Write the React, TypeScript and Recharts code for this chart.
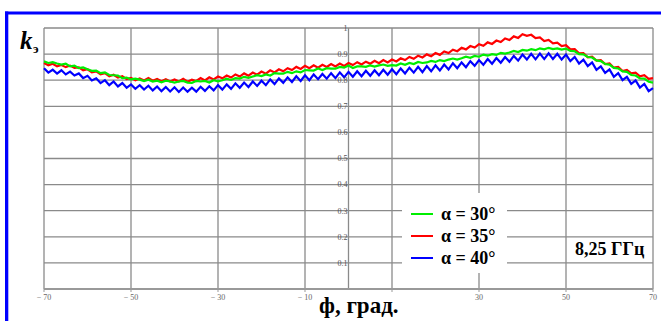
import React from 'react';
import { LineChart, Line, XAxis, YAxis, CartesianGrid, ReferenceLine, ReferenceDot } from 'recharts';

// angle, degrees
const angles = [
  -70, -69, -68, -67, -66, -65, -64, -63, -62, -61,
  -60, -59, -58, -57, -56, -55, -54, -53, -52, -51,
  -50, -49, -48, -47, -46, -45, -44, -43, -42, -41,
  -40, -39, -38, -37, -36, -35, -34, -33, -32, -31,
  -30, -29, -28, -27, -26, -25, -24, -23, -22, -21,
  -20, -19, -18, -17, -16, -15, -14, -13, -12, -11,
  -10, -9, -8, -7, -6, -5, -4, -3, -2, -1,
  0, 1, 2, 3, 4, 5, 6, 7, 8, 9,
  10, 11, 12, 13, 14, 15, 16, 17, 18, 19,
  20, 21, 22, 23, 24, 25, 26, 27, 28, 29,
  30, 31, 32, 33, 34, 35, 36, 37, 38, 39,
  40, 41, 42, 43, 44, 45, 46, 47, 48, 49,
  50, 51, 52, 53, 54, 55, 56, 57, 58, 59,
  60, 61, 62, 63, 64, 65, 66, 67, 68, 69,
  70,
];

// alpha = 30
const k30 = [
  0.872, 0.866, 0.869, 0.864, 0.860, 0.863, 0.853, 0.856, 0.846, 0.849,
  0.842, 0.836, 0.837, 0.827, 0.830, 0.820, 0.819, 0.818, 0.808, 0.810,
  0.803, 0.806, 0.802, 0.797, 0.802, 0.795, 0.798, 0.792, 0.798, 0.795,
  0.791, 0.795, 0.797, 0.791, 0.790, 0.797, 0.795, 0.797, 0.791, 0.800,
  0.796, 0.800, 0.806, 0.801, 0.808, 0.806, 0.813, 0.809, 0.814, 0.819,
  0.816, 0.822, 0.818, 0.827, 0.825, 0.825, 0.832, 0.827, 0.834, 0.830,
  0.839, 0.838, 0.837, 0.845, 0.839, 0.846, 0.844, 0.844, 0.851, 0.848,
  0.856, 0.847, 0.853, 0.853, 0.851, 0.857, 0.852, 0.857, 0.860, 0.855,
  0.858, 0.856, 0.864, 0.859, 0.866, 0.862, 0.870, 0.866, 0.868, 0.874,
  0.870, 0.877, 0.873, 0.879, 0.883, 0.879, 0.884, 0.890, 0.886, 0.893,
  0.890, 0.898, 0.894, 0.900, 0.897, 0.905, 0.902, 0.906, 0.912, 0.908,
  0.916, 0.913, 0.919, 0.915, 0.922, 0.918, 0.924, 0.919, 0.922, 0.917,
  0.921, 0.912, 0.911, 0.900, 0.899, 0.889, 0.887, 0.876, 0.873, 0.862,
  0.860, 0.847, 0.845, 0.834, 0.832, 0.820, 0.818, 0.807, 0.806, 0.794,
  0.791,
];

// alpha = 35
const k35 = [
  0.866, 0.857, 0.863, 0.853, 0.858, 0.850, 0.856, 0.847, 0.849, 0.838,
  0.842, 0.830, 0.834, 0.823, 0.827, 0.815, 0.821, 0.810, 0.815, 0.804,
  0.809, 0.800, 0.807, 0.799, 0.808, 0.798, 0.805, 0.796, 0.804, 0.795,
  0.803, 0.795, 0.805, 0.794, 0.802, 0.797, 0.808, 0.799, 0.811, 0.803,
  0.814, 0.807, 0.818, 0.810, 0.822, 0.814, 0.826, 0.817, 0.829, 0.821,
  0.833, 0.825, 0.838, 0.830, 0.842, 0.834, 0.846, 0.839, 0.851, 0.843,
  0.855, 0.846, 0.857, 0.848, 0.859, 0.851, 0.862, 0.853, 0.864, 0.855,
  0.866, 0.858, 0.869, 0.860, 0.871, 0.863, 0.874, 0.865, 0.877, 0.868,
  0.879, 0.872, 0.884, 0.877, 0.889, 0.882, 0.894, 0.887, 0.899, 0.892,
  0.904, 0.897, 0.910, 0.904, 0.917, 0.911, 0.924, 0.918, 0.931, 0.925,
  0.938, 0.932, 0.945, 0.939, 0.952, 0.946, 0.960, 0.954, 0.968, 0.962,
  0.976, 0.970, 0.974, 0.961, 0.964, 0.950, 0.954, 0.941, 0.944, 0.931,
  0.934, 0.918, 0.919, 0.903, 0.904, 0.888, 0.890, 0.875, 0.877, 0.862,
  0.864, 0.848, 0.851, 0.835, 0.839, 0.826, 0.829, 0.815, 0.819, 0.805,
  0.808,
];

// alpha = 40
const k40 = [
  0.846, 0.829, 0.840, 0.825, 0.838, 0.822, 0.833, 0.818, 0.826, 0.808,
  0.817, 0.799, 0.807, 0.789, 0.800, 0.781, 0.795, 0.776, 0.789, 0.771,
  0.784, 0.767, 0.781, 0.764, 0.779, 0.761, 0.776, 0.758, 0.774, 0.757,
  0.773, 0.755, 0.772, 0.756, 0.771, 0.756, 0.775, 0.759, 0.777, 0.761,
  0.781, 0.764, 0.784, 0.767, 0.788, 0.771, 0.791, 0.774, 0.795, 0.778,
  0.798, 0.781, 0.803, 0.785, 0.807, 0.790, 0.811, 0.793, 0.815, 0.797,
  0.819, 0.800, 0.822, 0.804, 0.824, 0.806, 0.827, 0.808, 0.830, 0.811,
  0.832, 0.813, 0.834, 0.815, 0.836, 0.817, 0.838, 0.819, 0.840, 0.821,
  0.842, 0.823, 0.845, 0.826, 0.848, 0.829, 0.851, 0.831, 0.854, 0.834,
  0.857, 0.837, 0.860, 0.841, 0.865, 0.846, 0.868, 0.850, 0.873, 0.855,
  0.877, 0.859, 0.881, 0.863, 0.885, 0.867, 0.889, 0.871, 0.893, 0.875,
  0.898, 0.879, 0.901, 0.880, 0.902, 0.881, 0.903, 0.881, 0.901, 0.879,
  0.898, 0.873, 0.889, 0.864, 0.879, 0.854, 0.868, 0.840, 0.853, 0.828,
  0.841, 0.813, 0.827, 0.800, 0.813, 0.786, 0.799, 0.772, 0.786, 0.758,
  0.770,
];

const xTicks = [-70, -50, -30, -10, 10, 30, 50, 70];
const yTicks = [0, 0.1, 0.2, 0.3, 0.4, 0.5, 0.6, 0.7, 0.8, 0.9, 1];
const yLabels = ['0.1', '0.2', '0.3', '0.4', '0.5', '0.6', '0.7', '0.8', '0.9', '1'];

const series = [
  { key: 'k40', name: 'α = 40°', color: '#0000ff' },
  { key: 'k35', name: 'α = 35°', color: '#ff0000' },
  { key: 'k30', name: 'α = 30°', color: '#00ee00' },
];
const legendOrder = ['k30', 'k35', 'k40'];

const data = angles.map((a, i) => ({ angle: a, k30: k30[i], k35: k35[i], k40: k40[i] }));

const serif = '"Liberation Serif", "Times New Roman", serif';
const gridColor = '#8a8a8a';

// the "10" label sits under the axis title in the original, so it is left out
const fmtX = (v: number) => (v === 10 ? '' : v < 0 ? `− ${-v}` : `${v}`);

export default function App() {
  return (
    <div style={{ position: 'absolute', left: 0, top: 0, width: 661, height: 321, background: '#fff' }}>
      <LineChart width={661} height={321} data={data} margin={{ top: 28, right: 8, left: 44, bottom: 12 }}>
        <CartesianGrid stroke={gridColor} strokeWidth={1.3} />
        <XAxis
          dataKey="angle"
          type="number"
          domain={[-70, 70]}
          ticks={xTicks}
          tickFormatter={fmtX}
          height={20}
          axisLine={{ stroke: '#999', strokeWidth: 2 }}
          tickLine={{ stroke: '#999' }}
          tickSize={3}
          tickMargin={2}
          tick={{ fill: '#666', fontSize: 8, fontFamily: serif }}
        />
        <YAxis hide width={0} domain={[0, 1]} ticks={yTicks} />
        <ReferenceLine x={0} stroke={gridColor} strokeWidth={1.3} />
        {yLabels.map((l) => (
          <ReferenceDot
            key={l}
            x={0}
            y={Number(l)}
            r={0}
            fill="none"
            stroke="none"
            label={{ value: l, position: 'left', offset: 1, fontSize: 8, fill: '#555', fontFamily: serif }}
          />
        ))}
        {series.map((s) => (
          <Line
            key={s.key}
            dataKey={s.key}
            name={s.name}
            type="linear"
            stroke={s.color}
            strokeWidth={2.2}
            dot={false}
            isAnimationActive={false}
          />
        ))}
      </LineChart>
      <svg width={661} height={321} style={{ position: 'absolute', left: 0, top: 0, pointerEvents: 'none' }}>
        <rect x={5} y={11.5} width={656} height={3} fill="#0000ff" />
        <rect x={5} y={11.5} width={3.3} height={310} fill="#0000ff" />
        <text x={20} y={49} fontFamily={serif} fontSize={25} fontWeight="bold" fontStyle="italic">k</text>
        <text x={33} y={52.5} fontFamily={serif} fontSize={13} fontWeight="bold">э</text>
        <rect x={402} y={193} width={105} height={80} fill="#fff" />
        {legendOrder.map((k, i) => {
          const s = series.find((x) => x.key === k)!;
          const cy = 214 + i * 22;
          return (
            <g key={k}>
              <line x1={411} x2={433} y1={cy} y2={cy} stroke={s.color} strokeWidth={2} />
              <text x={441} y={cy + 5.5} fontFamily={serif} fontSize={18} fontWeight="bold">{s.name}</text>
            </g>
          );
        })}
        <text x={575} y={254.5} fontFamily={serif} fontSize={18} fontWeight="bold">8,25 ГГц</text>
        <rect x={314} y={292} width={92} height={29} fill="#fff" />
        <text x={319} y={313} fontFamily={serif} fontSize={23} fontWeight="bold">ф, град.</text>
      </svg>
    </div>
  );
}
